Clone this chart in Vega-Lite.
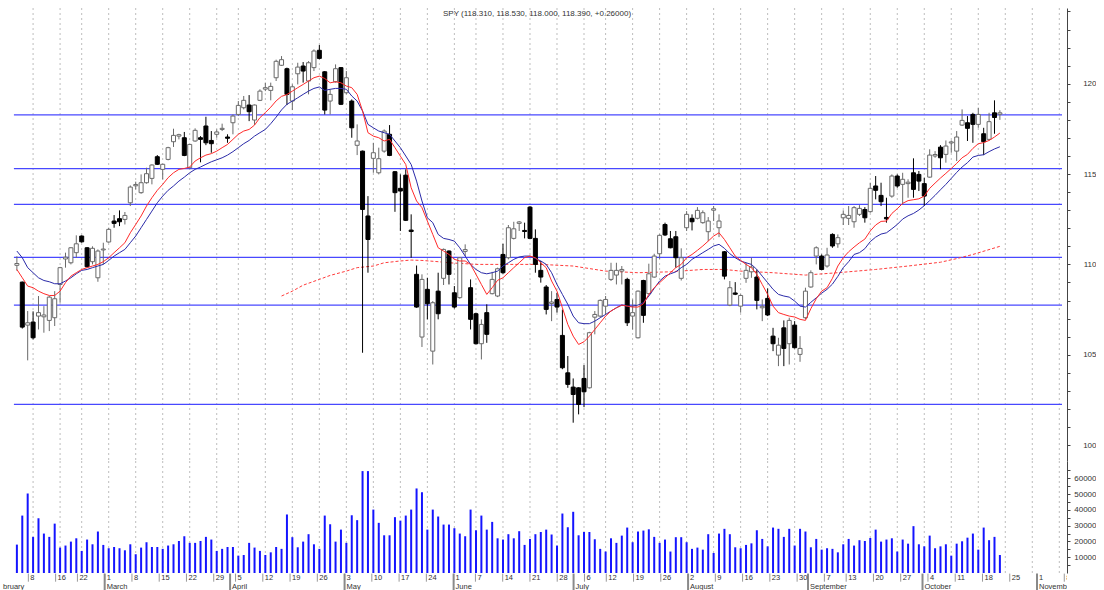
{
"$schema": "https://vega.github.io/schema/vega-lite/v6.json",
"padding": {"left": 0, "top": 7, "right": 0, "bottom": 0},
"background": "white",
"bounds": "flush",
"spacing": 0,
"config": {"view": {"stroke": null}, "font": "Liberation Sans"},
"datasets": {
"levels": [{"p": 118.27}, {"p": 115.30}, {"p": 113.32}, {"p": 110.39}, {"p": 107.75}, {"p": 102.25}],
"weeks": [{"i":3,"d":"8"},{"i":8,"d":"16"},{"i":12,"d":"22"},{"i":17,"d":"1"},{"i":22,"d":"8"},{"i":27,"d":"15"},{"i":32,"d":"22"},{"i":37,"d":"29"},{"i":41,"d":"5"},{"i":46,"d":"12"},{"i":51,"d":"19"},{"i":56,"d":"26"},{"i":61,"d":"3"},{"i":66,"d":"10"},{"i":71,"d":"17"},{"i":76,"d":"24"},{"i":81,"d":"1"},{"i":85,"d":"7"},{"i":90,"d":"14"},{"i":95,"d":"21"},{"i":100,"d":"28"},{"i":105,"d":"6"},{"i":109,"d":"12"},{"i":114,"d":"19"},{"i":119,"d":"26"},{"i":124,"d":"2"},{"i":129,"d":"9"},{"i":134,"d":"16"},{"i":139,"d":"23"},{"i":144,"d":"30"},{"i":149,"d":"7"},{"i":153,"d":"13"},{"i":158,"d":"20"},{"i":163,"d":"27"},{"i":168,"d":"4"},{"i":173,"d":"11"},{"i":178,"d":"18"},{"i":183,"d":"25"},{"i":188,"d":"1"},{"i":193,"d":"8"}],
"months": [{"i":-2,"m":"bruary"},{"i":17,"m":"March"},{"i":40,"m":"April"},{"i":61,"m":"May"},{"i":81,"m":"June"},{"i":103,"m":"July"},{"i":124,"m":"August"},{"i":146,"m":"September"},{"i":167,"m":"October"},{"i":188,"m":"November"}],
"ma200": [{"i":49,"m":108.25},{"i":51,"m":108.52},{"i":53,"m":108.85},{"i":56,"m":109.17},{"i":58,"m":109.39},{"i":61,"m":109.63},{"i":63,"m":109.82},{"i":66,"m":109.91},{"i":68,"m":110.09},{"i":71,"m":110.19},{"i":73,"m":110.24},{"i":75,"m":110.22},{"i":78,"m":110.15},{"i":80,"m":110.09},{"i":83,"m":110.04},{"i":85,"m":110.0},{"i":90,"m":110.0},{"i":95,"m":110.0},{"i":97,"m":110.0},{"i":103,"m":109.91},{"i":109,"m":109.63},{"i":115,"m":109.54},{"i":121,"m":109.59},{"i":127,"m":109.72},{"i":131,"m":109.72},{"i":134,"m":109.63},{"i":140,"m":109.54},{"i":146,"m":109.41},{"i":152,"m":109.54},{"i":159,"m":109.72},{"i":165,"m":109.91},{"i":171,"m":110.12},{"i":174,"m":110.32},{"i":177,"m":110.55},{"i":182,"m":111.0}],
"candles": [
{"i":0,"o":109.95,"h":110.45,"l":109.65,"c":110.05,"v":18000,"r":109.72,"b":110.74},
{"i":1,"o":109.02,"h":109.05,"l":106.45,"c":106.53,"v":36400,"r":109.26,"b":110.37},
{"i":2,"o":106.64,"h":107.42,"l":104.69,"c":106.77,"v":50400,"r":108.80,"b":109.82},
{"i":3,"o":106.81,"h":107.40,"l":105.85,"c":105.94,"v":22900,"r":108.71,"b":109.54},
{"i":4,"o":107.14,"h":108.25,"l":106.40,"c":107.33,"v":34700,"r":108.52,"b":109.26},
{"i":5,"o":107.10,"h":107.69,"l":106.22,"c":107.20,"v":25000,"r":108.38,"b":109.11},
{"i":6,"o":106.90,"h":108.25,"l":106.31,"c":108.19,"v":22900,"r":108.28,"b":109.04},
{"i":7,"o":107.05,"h":108.52,"l":106.59,"c":108.10,"v":31300,"r":108.28,"b":108.93},
{"i":8,"o":108.89,"h":109.86,"l":107.88,"c":109.82,"v":16100,"r":108.52,"b":108.93},
{"i":9,"o":110.30,"h":110.65,"l":109.82,"c":110.40,"v":17400,"r":108.99,"b":109.08},
{"i":10,"o":110.09,"h":110.95,"l":110.00,"c":110.92,"v":19900,"r":109.35,"b":109.26},
{"i":11,"o":110.65,"h":111.61,"l":110.37,"c":111.14,"v":22000,"r":109.54,"b":109.48},
{"i":12,"o":111.57,"h":111.61,"l":111.20,"c":111.25,"v":14000,"r":109.72,"b":109.67},
{"i":13,"o":110.92,"h":110.96,"l":109.82,"c":109.87,"v":21200,"r":109.82,"b":109.72},
{"i":14,"o":110.15,"h":111.00,"l":110.00,"c":110.89,"v":18200,"r":109.91,"b":109.82},
{"i":15,"o":109.26,"h":110.83,"l":109.04,"c":110.74,"v":26300,"r":110.00,"b":109.91},
{"i":16,"o":110.80,"h":111.20,"l":110.00,"c":110.85,"v":17800,"r":110.15,"b":110.00},
{"i":17,"o":111.24,"h":112.03,"l":111.20,"c":111.94,"v":15700,"r":110.37,"b":110.22},
{"i":18,"o":112.40,"h":112.73,"l":112.03,"c":112.27,"v":16500,"r":110.65,"b":110.46},
{"i":19,"o":112.53,"h":112.99,"l":112.12,"c":112.36,"v":15700,"r":110.92,"b":110.65},
{"i":20,"o":112.49,"h":112.90,"l":112.21,"c":112.71,"v":14400,"r":111.20,"b":110.83},
{"i":21,"o":113.41,"h":114.37,"l":113.23,"c":114.28,"v":18200,"r":111.75,"b":111.20},
{"i":22,"o":114.35,"h":114.58,"l":114.15,"c":114.42,"v":11900,"r":112.21,"b":111.57},
{"i":23,"o":113.97,"h":114.98,"l":113.91,"c":114.52,"v":16100,"r":112.68,"b":112.03},
{"i":24,"o":114.52,"h":115.35,"l":114.47,"c":115.02,"v":19500,"r":113.23,"b":112.49},
{"i":25,"o":114.76,"h":115.54,"l":114.43,"c":115.50,"v":16500,"r":113.69,"b":112.95},
{"i":26,"o":115.96,"h":116.05,"l":115.50,"c":115.54,"v":16500,"r":114.10,"b":113.41},
{"i":27,"o":115.26,"h":115.57,"l":114.71,"c":115.54,"v":15300,"r":114.43,"b":113.78},
{"i":28,"o":115.81,"h":116.51,"l":115.76,"c":116.46,"v":17400,"r":114.80,"b":114.10},
{"i":29,"o":116.79,"h":117.51,"l":116.50,"c":117.14,"v":18200,"r":115.07,"b":114.34},
{"i":30,"o":117.10,"h":117.23,"l":116.92,"c":117.18,"v":20300,"r":115.26,"b":114.61},
{"i":31,"o":117.01,"h":117.33,"l":115.99,"c":116.03,"v":23300,"r":115.31,"b":114.83},
{"i":32,"o":115.35,"h":116.66,"l":115.31,"c":116.64,"v":19100,"r":115.39,"b":115.07},
{"i":33,"o":116.83,"h":117.53,"l":116.79,"c":117.42,"v":19100,"r":115.72,"b":115.26},
{"i":34,"o":117.01,"h":117.10,"l":115.65,"c":116.92,"v":20300,"r":115.90,"b":115.39},
{"i":35,"o":117.66,"h":118.17,"l":116.60,"c":116.73,"v":22900,"r":116.05,"b":115.54},
{"i":36,"o":116.86,"h":117.38,"l":116.18,"c":116.68,"v":21200,"r":116.13,"b":115.68},
{"i":37,"o":117.20,"h":117.47,"l":117.01,"c":117.33,"v":14000,"r":116.27,"b":115.79},
{"i":38,"o":117.47,"h":117.79,"l":117.38,"c":117.53,"v":15300,"r":116.46,"b":115.90},
{"i":39,"o":117.05,"h":117.20,"l":116.73,"c":116.98,"v":16500,"r":116.64,"b":116.05},
{"i":40,"o":117.84,"h":118.30,"l":117.20,"c":118.21,"v":16500,"r":116.92,"b":116.24},
{"i":41,"o":118.30,"h":119.04,"l":118.21,"c":118.80,"v":11000,"r":117.20,"b":116.46},
{"i":42,"o":118.67,"h":119.32,"l":118.58,"c":119.08,"v":11400,"r":117.38,"b":116.68},
{"i":43,"o":118.82,"h":119.37,"l":117.93,"c":118.45,"v":19100,"r":117.47,"b":116.86},
{"i":44,"o":117.99,"h":118.85,"l":117.71,"c":118.82,"v":16100,"r":117.71,"b":117.10},
{"i":45,"o":119.08,"h":119.69,"l":119.04,"c":119.59,"v":14000,"r":118.12,"b":117.29},
{"i":46,"o":119.70,"h":120.06,"l":119.59,"c":119.78,"v":11400,"r":118.40,"b":117.47},
{"i":47,"o":119.63,"h":120.06,"l":119.08,"c":119.85,"v":13100,"r":118.70,"b":117.79},
{"i":48,"o":120.33,"h":121.33,"l":120.15,"c":121.24,"v":16500,"r":119.05,"b":118.15},
{"i":49,"o":121.02,"h":121.53,"l":120.98,"c":121.33,"v":15300,"r":119.30,"b":118.55},
{"i":50,"o":120.83,"h":120.89,"l":118.82,"c":119.41,"v":37100,"r":119.40,"b":118.86},
{"i":51,"o":119.04,"h":119.96,"l":118.54,"c":119.83,"v":22700,"r":119.59,"b":119.04},
{"i":52,"o":120.55,"h":121.16,"l":119.96,"c":120.92,"v":16300,"r":119.78,"b":119.22},
{"i":53,"o":120.98,"h":121.20,"l":120.06,"c":120.70,"v":19900,"r":119.96,"b":119.41},
{"i":54,"o":120.15,"h":121.25,"l":119.41,"c":121.16,"v":24600,"r":120.15,"b":119.59},
{"i":55,"o":120.89,"h":121.90,"l":120.70,"c":121.81,"v":18200,"r":120.33,"b":119.74},
{"i":56,"o":121.85,"h":122.14,"l":121.35,"c":121.40,"v":15300,"r":120.42,"b":119.82},
{"i":57,"o":120.66,"h":120.70,"l":118.30,"c":118.54,"v":36400,"r":120.29,"b":119.63},
{"i":58,"o":119.04,"h":119.69,"l":118.30,"c":119.41,"v":30900,"r":120.05,"b":119.69},
{"i":59,"o":120.11,"h":121.07,"l":120.06,"c":120.83,"v":19900,"r":120.11,"b":119.74},
{"i":60,"o":120.89,"h":120.92,"l":118.82,"c":118.86,"v":27500,"r":120.05,"b":119.74},
{"i":61,"o":119.50,"h":120.70,"l":119.41,"c":120.33,"v":19100,"r":119.87,"b":119.69},
{"i":62,"o":119.04,"h":119.13,"l":117.01,"c":117.56,"v":36600,"r":119.78,"b":119.32},
{"i":63,"o":116.59,"h":117.75,"l":116.05,"c":116.83,"v":33500,"r":119.41,"b":119.04},
{"i":64,"o":116.27,"h":116.30,"l":105.11,"c":113.04,"v":64600,"r":118.49,"b":118.49},
{"i":65,"o":112.68,"h":113.78,"l":109.54,"c":111.38,"v":64600,"r":117.29,"b":117.75},
{"i":66,"o":115.87,"h":116.73,"l":115.07,"c":116.18,"v":40200,"r":117.10,"b":117.56},
{"i":67,"o":115.07,"h":116.46,"l":114.98,"c":115.85,"v":31800,"r":117.01,"b":117.38},
{"i":68,"o":116.27,"h":117.47,"l":116.18,"c":117.38,"v":23900,"r":116.83,"b":117.29},
{"i":69,"o":117.20,"h":117.71,"l":115.99,"c":116.03,"v":23900,"r":116.92,"b":117.20},
{"i":70,"o":115.13,"h":115.17,"l":112.91,"c":113.97,"v":35400,"r":116.46,"b":116.83},
{"i":71,"o":114.21,"h":114.98,"l":111.85,"c":114.06,"v":33200,"r":115.99,"b":116.46},
{"i":72,"o":114.94,"h":115.26,"l":112.40,"c":112.44,"v":36400,"r":115.53,"b":116.00},
{"i":73,"o":111.90,"h":112.77,"l":110.37,"c":111.82,"v":40200,"r":114.24,"b":115.53},
{"i":74,"o":109.45,"h":109.94,"l":107.60,"c":107.64,"v":53600,"r":113.51,"b":114.61},
{"i":75,"o":105.98,"h":109.45,"l":105.43,"c":109.17,"v":51200,"r":113.14,"b":113.51},
{"i":76,"o":108.62,"h":109.26,"l":106.96,"c":107.82,"v":27500,"r":112.40,"b":112.58},
{"i":77,"o":105.20,"h":107.97,"l":104.46,"c":107.88,"v":40200,"r":111.66,"b":112.31},
{"i":78,"o":108.52,"h":109.54,"l":106.96,"c":107.27,"v":35800,"r":110.92,"b":111.66},
{"i":79,"o":109.23,"h":110.88,"l":108.86,"c":110.83,"v":30700,"r":110.74,"b":111.44},
{"i":80,"o":110.74,"h":110.78,"l":108.89,"c":109.45,"v":30700,"r":110.55,"b":111.38},
{"i":81,"o":108.43,"h":108.80,"l":107.56,"c":107.64,"v":28400,"r":110.28,"b":111.29},
{"i":82,"o":108.16,"h":110.40,"l":108.10,"c":110.37,"v":25000,"r":110.19,"b":110.92},
{"i":83,"o":110.72,"h":111.11,"l":110.46,"c":110.82,"v":23300,"r":110.19,"b":110.46},
{"i":84,"o":108.71,"h":109.17,"l":106.40,"c":106.96,"v":40200,"r":110.00,"b":110.00},
{"i":85,"o":107.27,"h":107.33,"l":105.57,"c":105.61,"v":27100,"r":109.45,"b":109.72},
{"i":86,"o":105.61,"h":106.96,"l":104.74,"c":106.68,"v":36400,"r":108.89,"b":109.54},
{"i":87,"o":107.33,"h":107.79,"l":105.66,"c":106.13,"v":27500,"r":108.34,"b":109.48},
{"i":88,"o":108.38,"h":109.59,"l":108.34,"c":109.17,"v":32400,"r":108.71,"b":109.54},
{"i":89,"o":108.25,"h":109.82,"l":108.19,"c":109.76,"v":22000,"r":109.12,"b":109.63},
{"i":90,"o":110.55,"h":111.14,"l":109.48,"c":109.54,"v":21200,"r":109.26,"b":109.91},
{"i":91,"o":110.37,"h":112.18,"l":110.28,"c":112.03,"v":24600,"r":109.54,"b":110.09},
{"i":92,"o":111.44,"h":112.36,"l":111.38,"c":111.97,"v":22000,"r":109.82,"b":110.28},
{"i":93,"o":112.27,"h":112.40,"l":111.85,"c":112.35,"v":26500,"r":110.09,"b":110.41},
{"i":94,"o":111.88,"h":112.31,"l":111.44,"c":111.82,"v":17800,"r":110.37,"b":110.46},
{"i":95,"o":113.17,"h":113.23,"l":111.42,"c":111.44,"v":21600,"r":110.46,"b":110.46},
{"i":96,"o":111.44,"h":111.94,"l":109.54,"c":110.00,"v":24600,"r":110.37,"b":110.33},
{"i":97,"o":109.67,"h":110.19,"l":108.99,"c":109.30,"v":26000,"r":110.09,"b":110.19},
{"i":98,"o":108.75,"h":108.86,"l":107.23,"c":107.51,"v":27500,"r":109.82,"b":110.00},
{"i":99,"o":107.84,"h":108.52,"l":106.86,"c":107.92,"v":24400,"r":109.08,"b":109.54},
{"i":100,"o":108.06,"h":108.43,"l":107.33,"c":107.64,"v":17400,"r":108.52,"b":108.89},
{"i":101,"o":106.07,"h":107.50,"l":104.20,"c":104.28,"v":37700,"r":107.60,"b":108.34},
{"i":102,"o":104.00,"h":104.93,"l":103.17,"c":103.36,"v":29000,"r":106.68,"b":107.79},
{"i":103,"o":103.21,"h":103.69,"l":101.24,"c":102.80,"v":38800,"r":106.03,"b":107.14},
{"i":104,"o":103.17,"h":103.20,"l":101.70,"c":102.25,"v":23900,"r":105.57,"b":106.77},
{"i":105,"o":103.69,"h":104.43,"l":102.10,"c":102.95,"v":26000,"r":105.72,"b":106.72},
{"i":106,"o":103.17,"h":106.27,"l":103.13,"c":106.22,"v":26000,"r":106.03,"b":106.72},
{"i":107,"o":107.08,"h":107.42,"l":106.13,"c":107.23,"v":21400,"r":106.40,"b":106.86},
{"i":108,"o":107.14,"h":108.06,"l":107.08,"c":108.01,"v":15300,"r":106.77,"b":107.05},
{"i":109,"o":107.69,"h":108.25,"l":107.23,"c":108.06,"v":13600,"r":107.14,"b":107.23},
{"i":110,"o":109.17,"h":110.09,"l":109.08,"c":109.67,"v":22000,"r":107.42,"b":107.42},
{"i":111,"o":109.41,"h":110.09,"l":108.89,"c":109.67,"v":19100,"r":107.60,"b":107.60},
{"i":112,"o":109.63,"h":109.91,"l":108.89,"c":109.72,"v":23700,"r":107.75,"b":107.75},
{"i":113,"o":109.17,"h":109.26,"l":106.59,"c":106.77,"v":28800,"r":107.69,"b":107.69},
{"i":114,"o":107.14,"h":108.06,"l":106.40,"c":107.33,"v":19500,"r":107.64,"b":107.69},
{"i":115,"o":105.94,"h":108.56,"l":105.90,"c":108.52,"v":26300,"r":107.64,"b":107.75},
{"i":116,"o":109.11,"h":109.15,"l":106.77,"c":107.18,"v":26900,"r":107.82,"b":107.88},
{"i":117,"o":108.38,"h":110.04,"l":108.34,"c":109.48,"v":27700,"r":108.34,"b":108.25},
{"i":118,"o":109.30,"h":110.59,"l":109.26,"c":110.46,"v":22900,"r":108.71,"b":108.67},
{"i":119,"o":110.59,"h":111.66,"l":110.31,"c":111.61,"v":19100,"r":108.99,"b":109.08},
{"i":120,"o":112.21,"h":112.31,"l":111.57,"c":111.63,"v":21200,"r":109.26,"b":109.35},
{"i":121,"o":111.42,"h":111.85,"l":110.89,"c":110.92,"v":13600,"r":109.54,"b":109.48},
{"i":122,"o":111.53,"h":111.85,"l":109.82,"c":110.37,"v":22700,"r":109.82,"b":109.59},
{"i":123,"o":109.23,"h":110.89,"l":109.11,"c":110.37,"v":22700,"r":110.00,"b":109.82},
{"i":124,"o":112.03,"h":112.95,"l":111.85,"c":112.77,"v":19500,"r":110.37,"b":110.00},
{"i":125,"o":112.55,"h":112.77,"l":111.88,"c":112.36,"v":15300,"r":110.55,"b":110.28},
{"i":126,"o":112.55,"h":113.17,"l":112.49,"c":112.99,"v":16100,"r":110.78,"b":110.46},
{"i":127,"o":112.31,"h":112.99,"l":112.25,"c":112.86,"v":14800,"r":111.02,"b":110.65},
{"i":128,"o":111.81,"h":112.62,"l":111.29,"c":112.40,"v":24600,"r":111.29,"b":110.83},
{"i":129,"o":113.00,"h":113.23,"l":112.40,"c":113.08,"v":12700,"r":111.57,"b":111.02},
{"i":130,"o":112.03,"h":112.77,"l":111.51,"c":112.40,"v":25000,"r":111.75,"b":111.11},
{"i":131,"o":110.70,"h":110.74,"l":109.17,"c":109.35,"v":28000,"r":111.38,"b":110.89},
{"i":132,"o":107.75,"h":109.08,"l":107.69,"c":108.71,"v":24600,"r":110.92,"b":110.59},
{"i":133,"o":108.42,"h":109.02,"l":108.30,"c":108.35,"v":16300,"r":110.46,"b":110.37},
{"i":134,"o":107.69,"h":108.34,"l":107.33,"c":108.28,"v":15700,"r":110.22,"b":110.19},
{"i":135,"o":109.23,"h":110.09,"l":108.98,"c":109.67,"v":17800,"r":110.00,"b":110.09},
{"i":136,"o":109.59,"h":110.37,"l":109.26,"c":109.85,"v":18800,"r":109.82,"b":110.00},
{"i":137,"o":109.30,"h":109.72,"l":107.51,"c":108.01,"v":27100,"r":109.45,"b":109.72},
{"i":138,"o":107.60,"h":108.06,"l":106.86,"c":107.68,"v":21600,"r":108.89,"b":109.35},
{"i":139,"o":108.12,"h":108.67,"l":107.14,"c":107.20,"v":16900,"r":108.34,"b":108.99},
{"i":140,"o":106.03,"h":106.49,"l":105.20,"c":105.61,"v":28800,"r":107.69,"b":108.62},
{"i":141,"o":104.98,"h":105.94,"l":104.37,"c":105.53,"v":28000,"r":107.33,"b":108.34},
{"i":142,"o":106.49,"h":106.90,"l":104.37,"c":105.35,"v":22900,"r":107.23,"b":108.25},
{"i":143,"o":105.61,"h":107.05,"l":104.46,"c":106.90,"v":28000,"r":107.14,"b":108.19},
{"i":144,"o":106.64,"h":106.86,"l":105.35,"c":105.39,"v":17400,"r":107.09,"b":107.97},
{"i":145,"o":105.02,"h":106.03,"l":104.61,"c":105.35,"v":28000,"r":106.96,"b":107.69},
{"i":146,"o":107.05,"h":108.71,"l":106.96,"c":108.52,"v":26300,"r":106.90,"b":107.64},
{"i":147,"o":108.75,"h":109.67,"l":108.71,"c":109.54,"v":16300,"r":107.55,"b":107.90},
{"i":148,"o":110.46,"h":111.00,"l":110.00,"c":110.92,"v":21600,"r":108.10,"b":108.15},
{"i":149,"o":110.46,"h":110.55,"l":109.67,"c":109.72,"v":14800,"r":108.52,"b":108.41},
{"i":150,"o":109.91,"h":110.92,"l":109.82,"c":110.52,"v":15700,"r":108.71,"b":108.62},
{"i":151,"o":111.66,"h":111.72,"l":110.92,"c":111.02,"v":15300,"r":109.23,"b":108.91},
{"i":152,"o":111.14,"h":111.66,"l":110.92,"c":111.48,"v":13100,"r":109.91,"b":109.34},
{"i":153,"o":112.58,"h":112.99,"l":112.18,"c":112.77,"v":18200,"r":110.37,"b":109.82},
{"i":154,"o":112.55,"h":113.23,"l":112.18,"c":112.71,"v":21600,"r":110.70,"b":110.15},
{"i":155,"o":112.36,"h":113.23,"l":112.03,"c":113.14,"v":17400,"r":110.96,"b":110.55},
{"i":156,"o":112.77,"h":113.28,"l":112.68,"c":113.10,"v":20800,"r":111.20,"b":110.65},
{"i":157,"o":113.04,"h":113.17,"l":112.31,"c":112.58,"v":20300,"r":111.40,"b":110.87},
{"i":158,"o":112.92,"h":114.52,"l":112.86,"c":114.21,"v":22200,"r":111.85,"b":111.26},
{"i":159,"o":114.34,"h":114.89,"l":113.60,"c":114.10,"v":27500,"r":112.18,"b":111.51},
{"i":160,"o":113.82,"h":114.52,"l":113.23,"c":113.47,"v":19900,"r":112.38,"b":111.68},
{"i":161,"o":112.60,"h":113.69,"l":112.31,"c":112.52,"v":21200,"r":112.40,"b":111.75},
{"i":162,"o":113.78,"h":114.98,"l":113.69,"c":114.89,"v":22000,"r":112.82,"b":111.97},
{"i":163,"o":114.89,"h":114.98,"l":114.24,"c":114.34,"v":13600,"r":113.08,"b":112.21},
{"i":164,"o":114.43,"h":115.07,"l":113.32,"c":114.71,"v":21200,"r":113.38,"b":112.51},
{"i":165,"o":114.47,"h":114.71,"l":113.69,"c":114.55,"v":18600,"r":113.53,"b":112.69},
{"i":166,"o":115.07,"h":115.87,"l":113.69,"c":114.15,"v":29700,"r":113.58,"b":112.82},
{"i":167,"o":114.98,"h":115.17,"l":114.06,"c":114.61,"v":18200,"r":113.63,"b":113.01},
{"i":168,"o":114.47,"h":114.80,"l":113.23,"c":113.78,"v":16900,"r":113.78,"b":113.25},
{"i":169,"o":114.83,"h":116.37,"l":114.80,"c":116.05,"v":23700,"r":114.21,"b":113.53},
{"i":170,"o":116.00,"h":116.27,"l":115.90,"c":116.08,"v":15700,"r":114.50,"b":113.82},
{"i":171,"o":116.49,"h":116.60,"l":115.26,"c":115.90,"v":16900,"r":114.78,"b":114.13},
{"i":172,"o":116.09,"h":116.86,"l":115.63,"c":116.55,"v":18200,"r":115.04,"b":114.43},
{"i":173,"o":116.72,"h":116.86,"l":116.18,"c":116.78,"v":11000,"r":115.31,"b":114.76},
{"i":174,"o":116.27,"h":117.38,"l":115.72,"c":117.05,"v":18600,"r":115.59,"b":115.09},
{"i":175,"o":117.71,"h":118.58,"l":117.66,"c":117.97,"v":20100,"r":115.90,"b":115.39},
{"i":176,"o":117.84,"h":118.21,"l":116.83,"c":117.53,"v":22400,"r":116.09,"b":115.63},
{"i":177,"o":118.30,"h":118.39,"l":116.73,"c":117.75,"v":25000,"r":116.42,"b":115.94},
{"i":178,"o":117.75,"h":118.67,"l":117.56,"c":118.30,"v":14800,"r":116.68,"b":116.03},
{"i":179,"o":117.23,"h":117.56,"l":116.05,"c":116.79,"v":28800,"r":116.74,"b":116.07},
{"i":180,"o":116.92,"h":118.39,"l":116.86,"c":117.90,"v":20800,"r":116.86,"b":116.24},
{"i":181,"o":118.39,"h":119.08,"l":117.23,"c":118.13,"v":22900,"r":117.05,"b":116.39},
{"i":182,"o":118.31,"h":118.53,"l":118.00,"c":118.39,"v":11400,"r":117.27,"b":116.51}
]
},
"vconcat": [
{
"width": 1067, "height": 453,
"layer": [
{"data": {"name": "weeks"}, "mark": {"type": "rule", "color": "#bdbdbd", "strokeDash": [2, 3], "strokeWidth": 1},
 "encoding": {"x": {"field": "i", "type": "quantitative", "scale": {"domain": [-2.2, 193.5], "nice": false, "zero": false}, "axis": null}}},
{"data": {"name": "levels"}, "mark": {"type": "rule", "color": "#4848ff", "strokeWidth": 1.3},
 "encoding": {
  "x": {"datum": -0.55, "type": "quantitative", "scale": {"domain": [-2.2, 193.5], "nice": false, "zero": false}, "axis": null},
  "x2": {"datum": 193.5},
  "y": {"field": "p", "type": "quantitative", "title": null, "scale": {"domain": [99.12, 124.19], "nice": false, "zero": false},
   "axis": {"orient": "right", "title": null, "grid": false, "values": [100,101,102,103,104,105,106,107,108,109,110,111,112,113,114,115,116,117,118,119,120,121,122,123,124], "labelExpr": "datum.value % 5 === 0 ? datum.label : ''", "format": "d", "tickSize": 3, "labelPadding": 26, "labelAlign": "right", "labelBaseline": "middle", "labelFontSize": 8, "labelFont": "Liberation Sans", "labelColor": "#333333", "domainColor": "#444444", "tickColor": "#444444", "labelOverlap": false}}}},
{"data": {"name": "ma200"}, "mark": {"type": "line", "color": "#ff3c3c", "strokeWidth": 1, "strokeDash": [3, 2]},
 "encoding": {
  "x": {"field": "i", "type": "quantitative", "scale": {"domain": [-2.2, 193.5], "nice": false, "zero": false}, "axis": null},
  "y": {"field": "m", "type": "quantitative", "title": null, "scale": {"domain": [99.12, 124.19], "nice": false, "zero": false},
   "axis": {"orient": "right", "title": null, "grid": false, "values": [100,101,102,103,104,105,106,107,108,109,110,111,112,113,114,115,116,117,118,119,120,121,122,123,124], "labelExpr": "datum.value % 5 === 0 ? datum.label : ''", "format": "d", "tickSize": 3, "labelPadding": 26, "labelAlign": "right", "labelBaseline": "middle", "labelFontSize": 8, "labelFont": "Liberation Sans", "labelColor": "#333333", "domainColor": "#444444", "tickColor": "#444444", "labelOverlap": false}}}},
{"data": {"name": "candles"}, "mark": {"type": "rule", "strokeWidth": 1},
 "encoding": {
  "x": {"field": "i", "type": "quantitative", "scale": {"domain": [-2.2, 193.5], "nice": false, "zero": false}, "axis": null},
  "y": {"field": "l", "type": "quantitative", "title": null, "scale": {"domain": [99.12, 124.19], "nice": false, "zero": false},
   "axis": {"orient": "right", "title": null, "grid": false, "values": [100,101,102,103,104,105,106,107,108,109,110,111,112,113,114,115,116,117,118,119,120,121,122,123,124], "labelExpr": "datum.value % 5 === 0 ? datum.label : ''", "format": "d", "tickSize": 3, "labelPadding": 26, "labelAlign": "right", "labelBaseline": "middle", "labelFontSize": 8, "labelFont": "Liberation Sans", "labelColor": "#333333", "domainColor": "#444444", "tickColor": "#444444", "labelOverlap": false}},
  "y2": {"field": "h"},
  "color": {"condition": {"test": "datum.c >= datum.o", "value": "#6a6a6a"}, "value": "#000000"}}},
{"data": {"name": "candles"}, "mark": {"type": "bar", "size": 4, "strokeWidth": 1},
 "encoding": {
  "x": {"field": "i", "type": "quantitative", "scale": {"domain": [-2.2, 193.5], "nice": false, "zero": false}, "axis": null},
  "y": {"field": "o", "type": "quantitative", "title": null, "scale": {"domain": [99.12, 124.19], "nice": false, "zero": false},
   "axis": {"orient": "right", "title": null, "grid": false, "values": [100,101,102,103,104,105,106,107,108,109,110,111,112,113,114,115,116,117,118,119,120,121,122,123,124], "labelExpr": "datum.value % 5 === 0 ? datum.label : ''", "format": "d", "tickSize": 3, "labelPadding": 26, "labelAlign": "right", "labelBaseline": "middle", "labelFontSize": 8, "labelFont": "Liberation Sans", "labelColor": "#333333", "domainColor": "#444444", "tickColor": "#444444", "labelOverlap": false}},
  "y2": {"field": "c"},
  "fill": {"condition": {"test": "datum.c >= datum.o", "value": "#ffffff"}, "value": "#000000"},
  "stroke": {"condition": {"test": "datum.c >= datum.o", "value": "#6a6a6a"}, "value": "#000000"}}},
{"data": {"name": "candles"}, "mark": {"type": "line", "color": "#2a2aa8", "strokeWidth": 1},
 "encoding": {
  "x": {"field": "i", "type": "quantitative", "scale": {"domain": [-2.2, 193.5], "nice": false, "zero": false}, "axis": null},
  "y": {"field": "b", "type": "quantitative", "title": null, "scale": {"domain": [99.12, 124.19], "nice": false, "zero": false},
   "axis": {"orient": "right", "title": null, "grid": false, "values": [100,101,102,103,104,105,106,107,108,109,110,111,112,113,114,115,116,117,118,119,120,121,122,123,124], "labelExpr": "datum.value % 5 === 0 ? datum.label : ''", "format": "d", "tickSize": 3, "labelPadding": 26, "labelAlign": "right", "labelBaseline": "middle", "labelFontSize": 8, "labelFont": "Liberation Sans", "labelColor": "#333333", "domainColor": "#444444", "tickColor": "#444444", "labelOverlap": false}}}},
{"data": {"name": "candles"}, "mark": {"type": "line", "color": "#ff2a2a", "strokeWidth": 1},
 "encoding": {
  "x": {"field": "i", "type": "quantitative", "scale": {"domain": [-2.2, 193.5], "nice": false, "zero": false}, "axis": null},
  "y": {"field": "r", "type": "quantitative", "title": null, "scale": {"domain": [99.12, 124.19], "nice": false, "zero": false},
   "axis": {"orient": "right", "title": null, "grid": false, "values": [100,101,102,103,104,105,106,107,108,109,110,111,112,113,114,115,116,117,118,119,120,121,122,123,124], "labelExpr": "datum.value % 5 === 0 ? datum.label : ''", "format": "d", "tickSize": 3, "labelPadding": 26, "labelAlign": "right", "labelBaseline": "middle", "labelFontSize": 8, "labelFont": "Liberation Sans", "labelColor": "#333333", "domainColor": "#444444", "tickColor": "#444444", "labelOverlap": false}}}},
{"data": {"values": [{"t": "SPY (118.310, 118.530, 118.000, 118.390, +0.26000)"}]},
 "mark": {"type": "text", "fontSize": 8, "color": "#333333", "align": "center", "baseline": "middle", "font": "Liberation Sans"},
 "encoding": {
  "x": {"datum": 96.3, "type": "quantitative", "scale": {"domain": [-2.2, 193.5], "nice": false, "zero": false}, "axis": null},
  "y": {"datum": 123.86, "type": "quantitative", "title": null, "scale": {"domain": [99.12, 124.19], "nice": false, "zero": false},
   "axis": {"orient": "right", "title": null, "grid": false, "values": [100,101,102,103,104,105,106,107,108,109,110,111,112,113,114,115,116,117,118,119,120,121,122,123,124], "labelExpr": "datum.value % 5 === 0 ? datum.label : ''", "format": "d", "tickSize": 3, "labelPadding": 26, "labelAlign": "right", "labelBaseline": "middle", "labelFontSize": 8, "labelFont": "Liberation Sans", "labelColor": "#333333", "domainColor": "#444444", "tickColor": "#444444", "labelOverlap": false}},
  "text": {"field": "t"}}}
]
},
{
"width": 1067, "height": 112,
"layer": [
{"data": {"name": "weeks"}, "mark": {"type": "rule", "color": "#bdbdbd", "strokeDash": [2, 3], "strokeWidth": 1},
 "encoding": {"x": {"field": "i", "type": "quantitative", "scale": {"domain": [-2.2, 193.5], "nice": false, "zero": false}, "axis": null}}},
{"data": {"name": "candles"}, "mark": {"type": "bar", "size": 2, "color": "#1414ff"},
 "encoding": {
  "x": {"field": "i", "type": "quantitative", "scale": {"domain": [-2.2, 193.5], "nice": false, "zero": false}, "axis": null},
  "y": {"field": "v", "type": "quantitative", "title": null, "scale": {"domain": [0, 71000], "nice": false, "zero": true},
   "axis": {"orient": "right", "title": null, "grid": false, "values": [5000,10000,15000,20000,25000,30000,35000,40000,45000,50000,55000,60000,65000], "labelExpr": "datum.value % 10000 === 0 ? datum.label : ''", "format": "d", "tickSize": 3, "labelPadding": 26, "labelAlign": "right", "labelBaseline": "middle", "labelFontSize": 8, "labelFont": "Liberation Sans", "labelColor": "#333333", "domainColor": "#444444", "tickColor": "#444444", "labelOverlap": false}}}},
{"mark": {"type": "rule", "color": "#4848ff", "strokeWidth": 1.3},
 "encoding": {
  "x": {"datum": -0.55, "type": "quantitative", "scale": {"domain": [-2.2, 193.5], "nice": false, "zero": false}, "axis": null},
  "x2": {"datum": 193.5},
  "y": {"datum": 30000, "type": "quantitative", "title": null, "scale": {"domain": [0, 71000], "nice": false, "zero": true},
   "axis": {"orient": "right", "title": null, "grid": false, "values": [5000,10000,15000,20000,25000,30000,35000,40000,45000,50000,55000,60000,65000], "labelExpr": "datum.value % 10000 === 0 ? datum.label : ''", "format": "d", "tickSize": 3, "labelPadding": 26, "labelAlign": "right", "labelBaseline": "middle", "labelFontSize": 8, "labelFont": "Liberation Sans", "labelColor": "#333333", "domainColor": "#444444", "tickColor": "#444444", "labelOverlap": false}}}},
{"mark": {"type": "rule", "color": "#4a4a4a", "strokeWidth": 1.2},
 "encoding": {
  "x": {"datum": -0.55, "type": "quantitative", "scale": {"domain": [-2.2, 193.5], "nice": false, "zero": false}, "axis": null},
  "x2": {"datum": 193.5},
  "y": {"datum": 71000, "type": "quantitative", "title": null, "scale": {"domain": [0, 71000], "nice": false, "zero": true},
   "axis": {"orient": "right", "title": null, "grid": false, "values": [5000,10000,15000,20000,25000,30000,35000,40000,45000,50000,55000,60000,65000], "labelExpr": "datum.value % 10000 === 0 ? datum.label : ''", "format": "d", "tickSize": 3, "labelPadding": 26, "labelAlign": "right", "labelBaseline": "middle", "labelFontSize": 8, "labelFont": "Liberation Sans", "labelColor": "#333333", "domainColor": "#444444", "tickColor": "#444444", "labelOverlap": false}}}}
]
},
{
"width": 1067, "height": 18,
"layer": [
{"mark": {"type": "rule", "color": "#555555", "strokeWidth": 1},
 "encoding": {
  "x": {"datum": -0.55, "type": "quantitative", "scale": {"domain": [-2.2, 193.5], "nice": false, "zero": false}, "axis": null},
  "x2": {"datum": 193.5},
  "y": {"datum": 0.6, "type": "quantitative", "scale": {"domain": [18, 0], "nice": false, "zero": false}, "axis": null}}},
{"mark": {"type": "rule", "color": "#555555", "strokeWidth": 1},
 "encoding": {
  "x": {"datum": -0.55, "type": "quantitative", "scale": {"domain": [-2.2, 193.5], "nice": false, "zero": false}, "axis": null},
  "x2": {"datum": 193.5},
  "y": {"datum": 8.7, "type": "quantitative", "scale": {"domain": [18, 0], "nice": false, "zero": false}, "axis": null}}},
{"data": {"name": "weeks"}, "mark": {"type": "rule", "color": "#9a9a9a", "strokeWidth": 1, "clip": true},
 "encoding": {
  "x": {"field": "i", "type": "quantitative", "scale": {"domain": [-2.2, 193.5], "nice": false, "zero": false}, "axis": null},
  "y": {"datum": 0.6, "type": "quantitative", "scale": {"domain": [18, 0], "nice": false, "zero": false}, "axis": null},
  "y2": {"datum": 8.7}}},
{"data": {"name": "months"}, "transform": [{"filter": "datum.i >= 0"}], "mark": {"type": "rule", "color": "#8a8a8a", "strokeWidth": 2, "clip": true},
 "encoding": {
  "x": {"field": "i", "type": "quantitative", "scale": {"domain": [-2.2, 193.5], "nice": false, "zero": false}, "axis": null},
  "y": {"datum": 0.6, "type": "quantitative", "scale": {"domain": [18, 0], "nice": false, "zero": false}, "axis": null},
  "y2": {"datum": 18}}},
{"data": {"name": "weeks"}, "mark": {"type": "text", "align": "left", "baseline": "alphabetic", "dx": 2, "fontSize": 7.5, "color": "#333333", "clip": true, "font": "Liberation Sans"},
 "encoding": {
  "x": {"field": "i", "type": "quantitative", "scale": {"domain": [-2.2, 193.5], "nice": false, "zero": false}, "axis": null},
  "y": {"datum": 6.8, "type": "quantitative", "scale": {"domain": [18, 0], "nice": false, "zero": false}, "axis": null},
  "text": {"field": "d"}}},
{"data": {"name": "months"}, "mark": {"type": "text", "align": "left", "baseline": "alphabetic", "dx": 2, "fontSize": 7.5, "color": "#333333", "clip": true, "font": "Liberation Sans"},
 "encoding": {
  "x": {"field": "i", "type": "quantitative", "scale": {"domain": [-2.2, 193.5], "nice": false, "zero": false}, "axis": null},
  "y": {"datum": 16.2, "type": "quantitative", "scale": {"domain": [18, 0], "nice": false, "zero": false}, "axis": null},
  "text": {"field": "m"}}}
]
}
]
}
